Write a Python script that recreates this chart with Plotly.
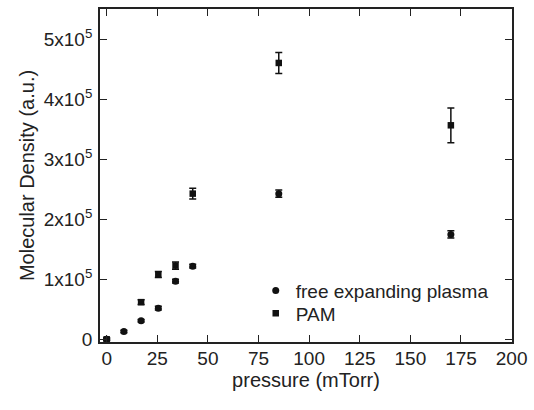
import plotly.graph_objects as go

pressure_free = [0, 8.5, 17, 25.5, 34, 42.5, 85, 170]
density_free = [0, 13000, 31000, 52000, 97000, 122000, 243000, 175000]
err_free = [2000, 2000, 2000, 3000, 3000, 3000, 6000, 6000]

pressure_pam = [0, 17, 25.5, 34, 42.5, 85, 170]
density_pam = [0, 62000, 108000, 123000, 243000, 461000, 357000]
err_pam = [2000, 4000, 5000, 6000, 9000, 17500, 29000]

x_ticks = [0, 25, 50, 75, 100, 125, 150, 175, 200]
y_ticks = [0, 100000, 200000, 300000, 400000, 500000]
y_ticklabels = ["0", "1x10<sup>5</sup>", "2x10<sup>5</sup>", "3x10<sup>5</sup>",
                "4x10<sup>5</sup>", "5x10<sup>5</sup>"]

FONT = "Liberation Sans, Arial, sans-serif"

fig = go.Figure()
fig.add_trace(go.Scatter(
    x=pressure_free, y=density_free, mode="markers", name="free expanding plasma",
    marker=dict(symbol="circle", size=7, color="#111"),
    error_y=dict(type="data", array=err_free, color="#111", thickness=1.5, width=3.5),
    legend="legend",
))
fig.add_trace(go.Scatter(
    x=pressure_pam, y=density_pam, mode="markers", name="PAM",
    marker=dict(symbol="square", size=6.5, color="#111"),
    error_y=dict(type="data", array=err_pam, color="#111", thickness=1.5, width=3.5),
    legend="legend2",
))

axis_common = dict(
    showline=True, linecolor="#222", linewidth=1.8, mirror="ticks",
    ticks="inside", ticklen=7, tickwidth=1.3, tickcolor="#222",
    showgrid=False, zeroline=False,
    tickfont=dict(family=FONT, size=19, color="#222"),
    title_font=dict(family=FONT, size=20, color="#222"),
)

fig.update_xaxes(range=[-3.3, 200.2], tickvals=x_ticks,
                 title_text="pressure (mTorr)", title_standoff=0,
                 ticklabelstandoff=-2, **axis_common)
fig.update_yaxes(range=[-4500, 551000], tickvals=y_ticks, ticktext=y_ticklabels,
                 title_text="Molecular Density (a.u.)", title_standoff=4,
                 ticklabelstandoff=2, **axis_common)

legend_common = dict(xanchor="left", yanchor="top",
                     bgcolor="rgba(0,0,0,0)", borderwidth=0,
                     font=dict(family=FONT, size=19, color="#222"))

fig.update_layout(
    width=534, height=410,
    margin=dict(l=100, r=21, t=7, b=68),
    paper_bgcolor="white", plot_bgcolor="white",
    showlegend=True,
    legend=dict(x=0.378, y=0.211, **legend_common),
    legend2=dict(x=0.378, y=0.143, **legend_common),
    font=dict(family=FONT, color="#222"),
)

fig.write_html("out.html", config={"displayModeBar": False},
               post_script="document.body.style.margin='0';")
